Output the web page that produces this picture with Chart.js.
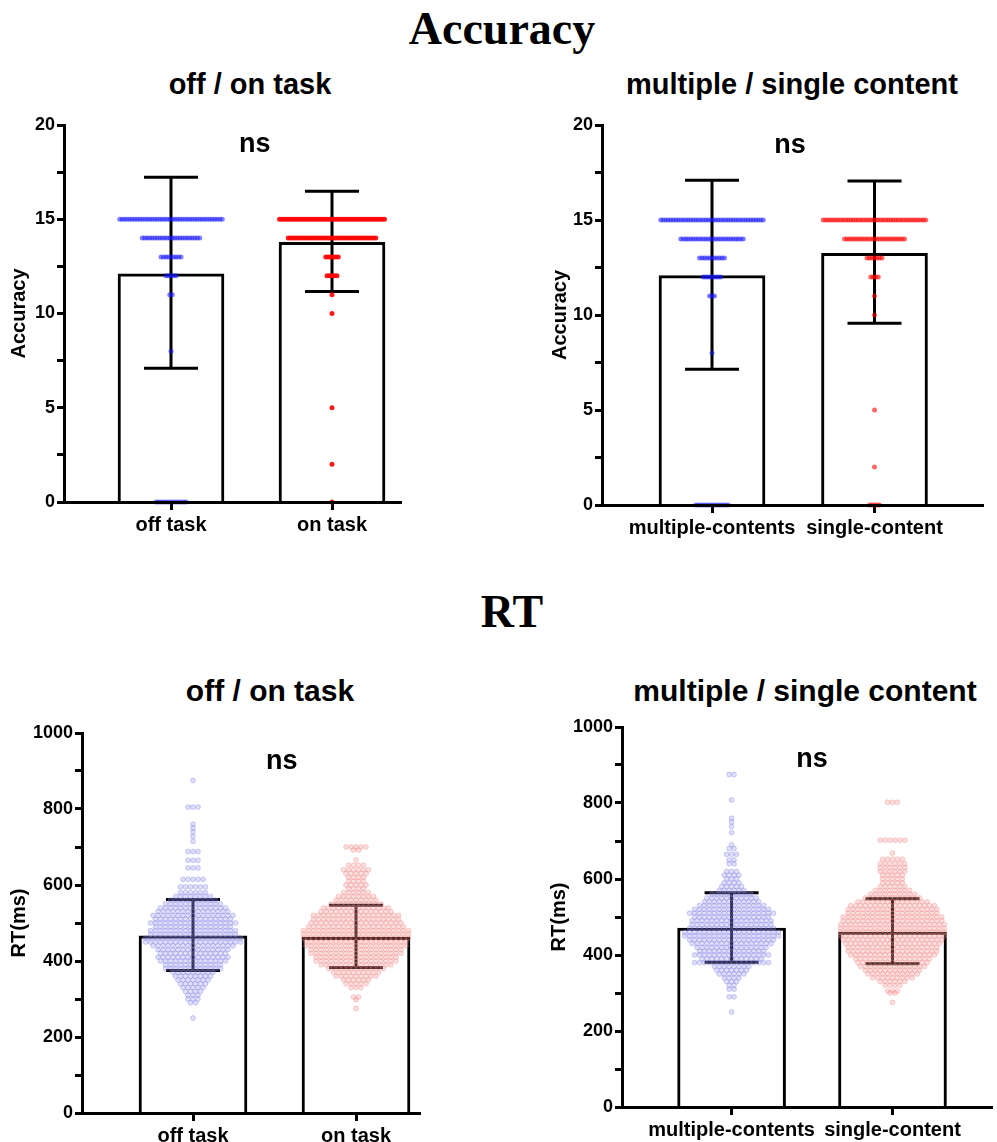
<!DOCTYPE html>
<html>
<head>
<meta charset="utf-8">
<title>Accuracy / RT</title>
<script src="https://cdn.jsdelivr.net/npm/chart.js@4.4.0/dist/chart.umd.min.js"></script>
<style>
  body { margin: 0; background: #fff; width: 997px; height: 1142px; position: relative; overflow: hidden; }
  .box { position: absolute; }
  .ttl { position: absolute; width: 500px; text-align: center; line-height: 1; font-weight: bold; color: #000; white-space: nowrap; }
  .big { font-family: 'Liberation Serif', 'Times New Roman', serif; font-size: 46px; }
  .sub { font-family: 'Liberation Sans', Arial, sans-serif; font-size: 29px; }
</style>
</head>
<body>

<div class="ttl big" style="left:252px; top:6px;">Accuracy</div>
<div class="ttl big" style="left:262px; top:589px;">RT</div>

<div class="ttl sub" style="left:0px; top:70px;">off / on task</div>
<div class="ttl sub" style="left:542px; top:70px;">multiple / single content</div>
<div class="ttl sub" style="left:20px; top:676px; font-size:30px;">off / on task</div>
<div class="ttl sub" style="left:555px; top:676px; font-size:30px;">multiple / single content</div>

<div class="box" style="left:7px; top:100px; width:404px; height:442px;"><canvas id="accTask"></canvas></div>
<div class="box" style="left:548px; top:100px; width:449px; height:445px;"><canvas id="accContent"></canvas></div>
<div class="box" style="left:7px; top:708px; width:423px; height:434px;"><canvas id="rtTask"></canvas></div>
<div class="box" style="left:547px; top:702px; width:450px; height:440px;"><canvas id="rtContent"></canvas></div>

<script>
// ---- data ----
const taskLabels = ['off task', 'on task'];
const contentLabels = ['multiple-contents', 'single-content'];

const accTicks = [0, 5, 10, 15, 20];
const rtTicks = [0, 200, 400, 600, 800, 1000];

// accuracy: bar = mean, whiskers low/high
const accTaskMean = [12.1, 13.78];
const accTaskLow = [7.09, 11.17];
const accTaskHigh = [17.23, 16.49];
const accContentMean = [12.07, 13.25];
const accContentLow = [7.14, 9.56];
const accContentHigh = [17.09, 17.05];

// RT
const rtTaskMean = [466, 462];
const rtTaskLow = [375, 383];
const rtTaskHigh = [562, 547];
const rtContentMean = [471, 460];
const rtContentLow = [381, 377];
const rtContentHigh = [564, 548];

// individual points as [value, how many]
const accOffTask = [[15, 42], [14, 24], [13, 9], [12, 5], [11, 2], [8, 1], [0, 13]];
const accOnTask = [[15, 43], [14, 36], [13, 6], [12, 5], [11, 1], [10, 1], [5, 1], [2, 1], [0, 1]];
const accMultiple = [[15, 42], [14, 26], [13, 11], [12, 8], [11, 3], [8, 1], [0, 14]];
const accSingle = [[15, 42], [14, 25], [13, 7], [12, 4], [11, 1], [10, 1], [5, 1], [2, 1], [0, 5]];

const rtOffTask = [[875,1],[805,3],[760,1],[750,1],[740,1],[728,1],[715,1],[688,3],[665,3],[645,3],[615,5],[595,6],
  [580,6],[570,8],[560,10],[550,12],[540,14],[530,15],[520,17],[510,16],[500,18],[490,16],[480,18],[470,18],
  [460,20],[450,20],[440,17],[430,15],[420,14],[410,15],[400,14],[390,12],[380,12],[370,9],[360,8],[350,7],
  [340,6],[330,5],[320,4],[310,3],[300,3],[290,2],[250,1]];
const rtOnTask = [[700,5],[692,2],[666,1],[652,4],[640,6],[630,5],[620,4],[610,4],[600,5],[590,4],[580,6],[570,8],
  [560,9],[550,11],[540,14],[530,15],[520,18],[510,18],[500,19],[490,20],[480,22],[470,22],[460,22],[450,21],
  [440,21],[430,19],[420,19],[410,17],[400,17],[390,15],[380,12],[370,10],[360,9],[350,6],[340,5],[330,3],
  [305,2],[298,1],[275,1]];
const rtMultiple = [[875,2],[808,1],[760,1],[750,1],[738,1],[722,1],[690,1],[680,2],[665,3],[650,2],[640,2],[620,3],
  [610,4],[600,3],[590,4],[580,5],[570,6],[560,9],[550,11],[540,12],[530,14],[520,16],[510,18],[500,16],[490,17],
  [480,17],[470,18],[460,20],[450,20],[440,18],[430,17],[420,15],[410,14],[400,16],[390,13],[380,16],[370,8],
  [360,7],[350,6],[340,4],[330,3],[320,2],[310,2],[290,2],[250,1]];
const rtSingle = [[802,3],[702,6],[668,1],[652,5],[640,6],[630,6],[620,6],[610,5],[600,5],[590,5],[580,6],[570,8],
  [560,10],[550,12],[540,15],[530,18],[520,19],[510,19],[500,21],[490,21],[480,22],[470,22],[460,22],[450,22],
  [440,21],[430,20],[420,19],[410,19],[400,18],[390,16],[380,15],[370,14],[360,12],[350,11],[340,9],[330,6],
  [320,4],[305,3],[300,2],[275,1]];

// ---- drawing ----
Chart.defaults.color = '#000';
Chart.defaults.font.family = "'Liberation Sans', Arial, sans-serif";
Chart.defaults.font.weight = 'bold';

// spread the points of one row side by side, centred on the category
function swarm(rows, center, spacePx, pxPerUnit) {
  let pts = [];
  rows.forEach(r => {
    for (let i = 0; i < r[1]; i++) {
      pts.push({ x: center + (i - (r[1] - 1) / 2) * spacePx / pxPerUnit, y: r[0] });
    }
  });
  return pts;
}

// whiskers, drawn right after the bars so the dots sit on top
const errorBars = {
  id: 'errorBars',
  afterDatasetDraw(chart, args, opts) {
    if (args.meta.type !== 'bar') return;
    const c = chart.ctx, xs = chart.scales.x, ys = chart.scales.y;
    c.save();
    c.strokeStyle = '#000';
    c.lineWidth = 3;
    opts.low.forEach((lo, i) => {
      const x = xs.getPixelForValue(i + 1);
      const y1 = ys.getPixelForValue(lo), y2 = ys.getPixelForValue(opts.high[i]);
      c.beginPath();
      c.moveTo(x, y1); c.lineTo(x, y2);
      c.moveTo(x - opts.cap / 2, y1); c.lineTo(x + opts.cap / 2, y1);
      c.moveTo(x - opts.cap / 2, y2); c.lineTo(x + opts.cap / 2, y2);
      c.stroke();
    });
    c.restore();
  }
};

const nsLabel = {
  id: 'nsLabel',
  afterDraw(chart, args, opts) {
    const c = chart.ctx;
    c.save();
    c.font = "bold 27px 'Liberation Sans', Arial, sans-serif";
    c.fillStyle = '#000';
    c.textAlign = 'center';
    c.textBaseline = 'alphabetic';
    c.fillText('ns', chart.scales.x.getPixelForValue(opts.x), chart.scales.y.getPixelForValue(opts.y));
    c.restore();
  }
};

function makeChart(id, g, d) {
  const pxu = g.c2 - g.c1;
  const xMin = 1 - (g.c1 - g.axisL) / pxu;
  const xMax = 2 + (g.axisR - g.c2) / pxu;
  const ctx = document.getElementById(id);

  return new Chart(ctx, {
    type: 'bar',
    data: {
      datasets: [
        {
          type: 'scatter',
          data: swarm(d.pts[0], 1, g.space, pxu),
          pointRadius: g.r, pointBorderWidth: g.bw,
          backgroundColor: d.fill[0], borderColor: d.edge[0],
          clip: false, order: 0
        },
        {
          type: 'scatter',
          data: swarm(d.pts[1], 2, g.space, pxu),
          pointRadius: g.r, pointBorderWidth: g.bw,
          backgroundColor: d.fill[1], borderColor: d.edge[1],
          clip: false, order: 0
        },
        {
          type: 'bar',
          data: d.mean.map((m, i) => ({ x: i + 1, y: m })),
          backgroundColor: '#fff',
          borderColor: '#000',
          borderWidth: 3,
          borderSkipped: 'bottom',
          barThickness: g.bar,
          order: 1
        }
      ]
    },
    options: {
      responsive: true,
      maintainAspectRatio: false,
      animation: false,
      events: [],
      layout: { padding: { top: g.padTop, right: g.padRight, left: 0, bottom: 0 } },
      plugins: {
        legend: { display: false },
        tooltip: { enabled: false },
        errorBars: { low: d.low, high: d.high, cap: g.cap },
        nsLabel: { x: d.nsX, y: d.nsY }
      },
      scales: {
        x: {
          type: 'linear',
          min: xMin, max: xMax,
          offset: false,
          afterBuildTicks: s => { s.ticks = [{ value: 1 }, { value: 2 }]; },
          afterFit: s => { s.height = g.xH; },
          border: { display: true, color: '#000', width: 3, z: 1 },
          grid: { display: true, offset: false, drawOnChartArea: false, drawTicks: true, tickLength: 8, tickWidth: 3, tickColor: '#000' },
          ticks: { padding: 3, font: { size: 20, weight: 'bold' }, callback: v => d.labels[v - 1] }
        },
        y: {
          min: 0, max: d.yMax,
          afterFit: s => { s.width = g.yW; },
          border: { display: true, color: '#000', width: 3 },
          grid: { display: true, drawOnChartArea: false, drawTicks: true, tickLength: 7, tickWidth: 3, tickColor: '#000' },
          ticks: {
            stepSize: d.minor, padding: 2, font: { size: 18, weight: 'bold' },
            callback: v => d.ticks.includes(v) ? String(v) : ''
          },
          title: { display: true, text: d.title, padding: 0, font: { size: 20, weight: 'bold' } }
        }
      }
    },
    plugins: [errorBars, nsLabel]
  });
}

// accuracy, off / on task
makeChart('accTask',
  { axisL: 64, axisR: 401, c1: 171, c2: 332, bar: 106, cap: 54, yW: 57, xH: 40, padTop: 25, padRight: 10, space: 2.5, r: 2.5, bw: 0 },
  { pts: [accOffTask, accOnTask], mean: accTaskMean, low: accTaskLow, high: accTaskHigh, labels: taskLabels,
    fill: ['rgba(20,20,255,0.55)', 'rgba(255,0,0,0.9)'], edge: ['rgba(0,0,0,0)', 'rgba(0,0,0,0)'],
    ticks: accTicks, minor: 2.5, yMax: 20, title: 'Accuracy', nsX: 1.52, nsY: 18.56 });

// accuracy, multiple / single content
makeChart('accContent',
  { axisL: 602, axisR: 983, c1: 712, c2: 874.5, bar: 106, cap: 54, yW: 54, xH: 40, padTop: 25, padRight: 14, space: 2.5, r: 2.5, bw: 0 },
  { pts: [accMultiple, accSingle], mean: accContentMean, low: accContentLow, high: accContentHigh, labels: contentLabels,
    fill: ['rgba(20,20,255,0.55)', 'rgba(255,0,0,0.6)'], edge: ['rgba(0,0,0,0)', 'rgba(0,0,0,0)'],
    ticks: accTicks, minor: 2.5, yMax: 20, title: 'Accuracy', nsX: 1.48, nsY: 18.53 });

// RT, off / on task
makeChart('rtTask',
  { axisL: 82, axisR: 420, c1: 193, c2: 356, bar: 108, cap: 54, yW: 75, xH: 29, padTop: 25, padRight: 10, space: 5, r: 2.4, bw: 0.8 },
  { pts: [rtOffTask, rtOnTask], mean: rtTaskMean, low: rtTaskLow, high: rtTaskHigh, labels: taskLabels,
    fill: ['rgba(150,150,240,0.3)', 'rgba(245,150,150,0.3)'], edge: ['rgba(120,120,230,0.45)', 'rgba(240,130,130,0.45)'],
    ticks: rtTicks, minor: 100, yMax: 1000, title: 'RT(ms)', nsX: 1.545, nsY: 905 });

// RT, multiple / single content
makeChart('rtContent',
  { axisL: 622, axisR: 997, c1: 733, c2: 896, bar: 108, cap: 54, yW: 75, xH: 35, padTop: 25, padRight: 0, space: 5, r: 2.4, bw: 0.8 },
  { pts: [rtMultiple, rtSingle], mean: rtContentMean, low: rtContentLow, high: rtContentHigh, labels: contentLabels,
    fill: ['rgba(150,150,240,0.3)', 'rgba(245,150,150,0.3)'], edge: ['rgba(120,120,230,0.45)', 'rgba(240,130,130,0.45)'],
    ticks: rtTicks, minor: 100, yMax: 1000, title: 'RT(ms)', nsX: 1.5, nsY: 895 });
</script>
</body>
</html>
